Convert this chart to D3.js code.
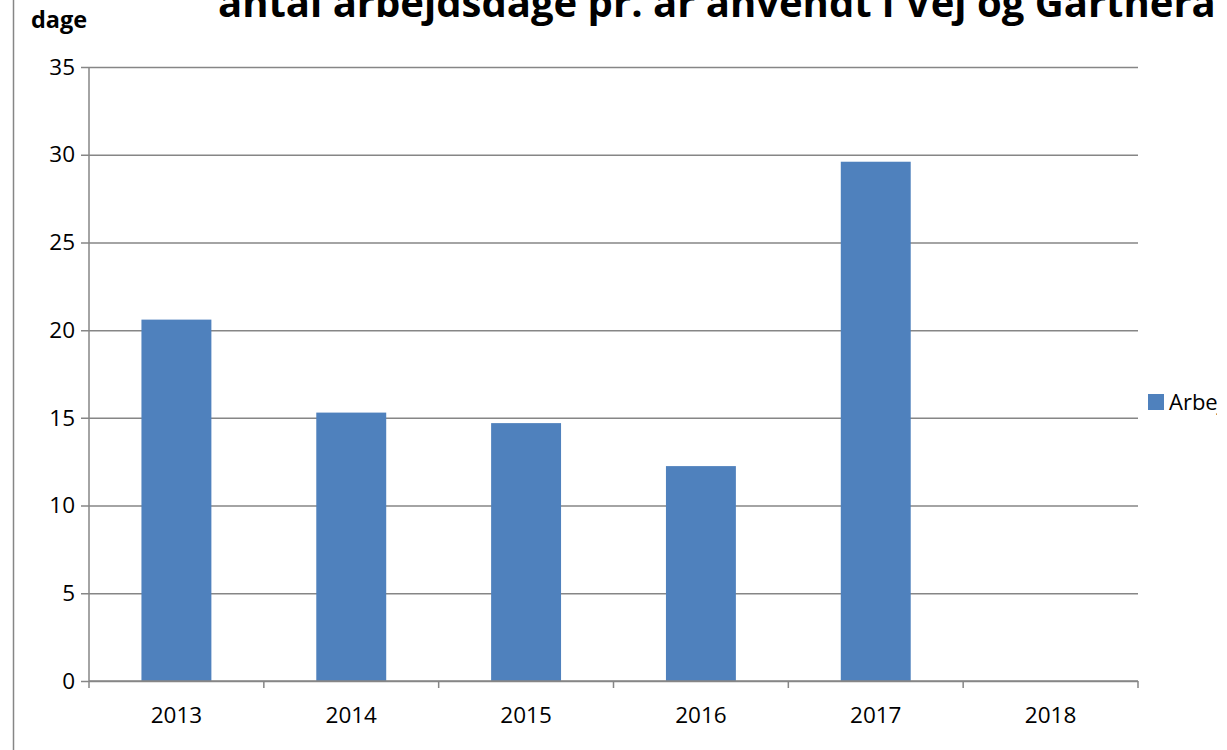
<!DOCTYPE html>
<html>
<head>
<meta charset="utf-8">
<script src="https://cdn.jsdelivr.net/npm/d3@7"></script>
<style>
  body { margin: 0; background: #fff; }
  svg { display: block; font-family: "Open Sans", sans-serif; }
  .tick text { fill: #000; }
</style>
</head>
<body>
<svg width="1227" height="750"></svg>
<script>
// data
const years = ["2013", "2014", "2015", "2016", "2017", "2018"];
const days = [20.6, 15.3, 14.7, 12.25, 29.6, 0];
const yTicks = [0, 5, 10, 15, 20, 25, 30, 35];
const seriesName = "Arbejdsdage";
const title = "antal arbejdsdage pr. år anvendt i Vej og Gartnerafdeling";

const svg = d3.select("svg");
const margin = { top: 67, left: 89 };
const innerWidth = 1138 - margin.left;
const innerHeight = 681 - margin.top;

const axisColor = "#868686";
const barColor = "#4F81BD";

// the original picture is cropped a little before the right edge
svg.append("clipPath")
  .attr("id", "crop")
  .append("rect")
  .attr("width", 1217).attr("height", 750);

const root = svg.append("g").attr("clip-path", "url(#crop)");

// chart area border (only the left side is in view)
root.append("rect")
  .attr("x", 13.5).attr("y", -20)
  .attr("width", 1400).attr("height", 900)
  .attr("fill", "none")
  .attr("stroke", axisColor)
  .attr("stroke-width", 1.5);

const g = root.append("g")
  .attr("transform", `translate(${margin.left},${margin.top})`);

const xScale = d3.scaleBand()
  .domain(years)
  .range([0, innerWidth])
  .paddingInner(0.6)
  .paddingOuter(0.3);

const yScale = d3.scaleLinear()
  .domain([0, 35])
  .range([innerHeight, 0]);

// gridlines + y axis
const yAxis = d3.axisLeft(yScale)
  .tickValues(yTicks)
  .tickSize(-innerWidth)
  .tickPadding(14);

const yAxisG = g.append("g").call(yAxis);
yAxisG.select(".domain").remove();
yAxisG.selectAll(".tick line")
  .attr("stroke", axisColor)
  .attr("stroke-width", 1.5)
  .attr("x1", -8);
yAxisG.selectAll(".tick text")
  .attr("font-size", 22.5)
  .attr("font-family", "Open Sans, sans-serif");

// bars
g.selectAll(".bar")
  .data(days)
  .enter()
  .append("rect")
  .attr("class", "bar")
  .attr("x", (d, i) => xScale(years[i]))
  .attr("y", d => yScale(d))
  .attr("width", xScale.bandwidth())
  .attr("height", d => innerHeight - yScale(d))
  .attr("fill", barColor);

// y axis line
g.append("line")
  .attr("x1", 0).attr("x2", 0)
  .attr("y1", 0).attr("y2", innerHeight)
  .attr("stroke", axisColor)
  .attr("stroke-width", 1.5);

// x axis: ticks sit between categories, labels centred
const xAxisG = g.append("g")
  .attr("transform", `translate(0,${innerHeight})`);

xAxisG.append("line")
  .attr("x1", 0).attr("x2", innerWidth)
  .attr("stroke", axisColor)
  .attr("stroke-width", 1.5);

const step = xScale.step();
xAxisG.selectAll(".xtick")
  .data(d3.range(years.length + 1))
  .enter()
  .append("line")
  .attr("class", "xtick")
  .attr("x1", i => i * step).attr("x2", i => i * step)
  .attr("y1", 0).attr("y2", 7)
  .attr("stroke", axisColor)
  .attr("stroke-width", 1.5);

xAxisG.selectAll(".xlabel")
  .data(years)
  .enter()
  .append("text")
  .attr("class", "xlabel")
  .attr("x", d => xScale(d) + xScale.bandwidth() / 2)
  .attr("y", 42)
  .attr("text-anchor", "middle")
  .attr("font-size", 22.5)
  .text(d => d);

// y axis title
root.append("text")
  .attr("x", 31)
  .attr("y", 28)
  .attr("font-size", 23.5)
  .attr("font-weight", "bold")
  .text("dage");

// chart title, sized so the visible part spans like the original
const titleText = root.append("text")
  .attr("x", 218)
  .attr("y", 16.5)
  .attr("font-size", 30)
  .attr("font-weight", "bold")
  .text(title);
const visible = titleText.node().getSubStringLength(0, title.indexOf("fdeling"));
titleText.attr("font-size", 30 * 998 / visible);

// legend
const legendG = root.append("g")
  .attr("transform", "translate(1148,394)");
legendG.append("rect")
  .attr("width", 16).attr("height", 16)
  .attr("fill", barColor);
legendG.append("text")
  .attr("x", 21)
  .attr("y", 16)
  .attr("font-size", 22)
  .text(seriesName);
</script>
</body>
</html>
